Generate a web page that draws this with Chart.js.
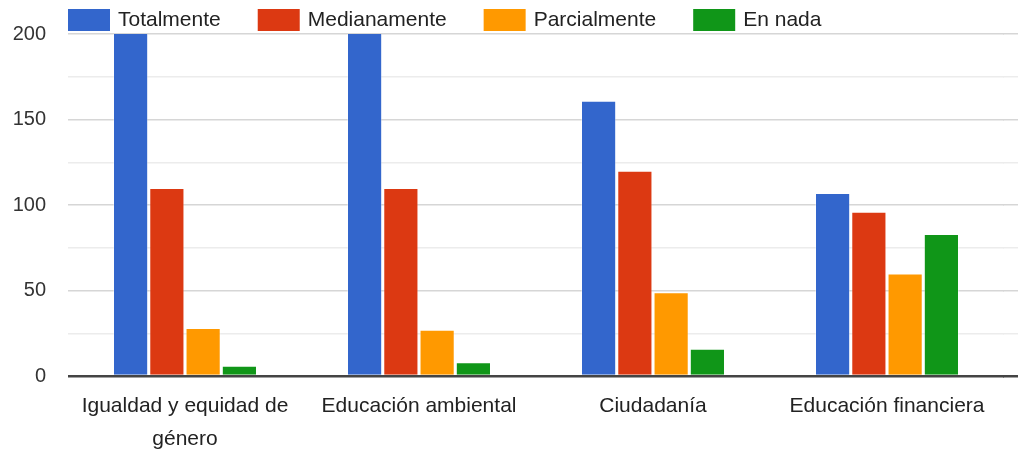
<!DOCTYPE html>
<html>
<head>
<meta charset="utf-8">
<script src="https://cdn.jsdelivr.net/npm/chart.js@4"></script>
<style>
  html, body { margin: 0; padding: 0; background: #fff; }
  #wrap { width: 1018px; height: 451px; position: relative; }
</style>
</head>
<body>
<div id="wrap"><canvas id="c"></canvas></div>
<script>
const categories = [["Igualdad y equidad de", "género"], "Educación ambiental", "Ciudadanía", "Educación financiera"];
const seriesNames = ["Totalmente", "Medianamente", "Parcialmente", "En nada"];
const totalmente = [225, 225, 161, 107];
const medianamente = [110, 110, 120, 96];
const parcialmente = [28, 27, 49, 60];
const enNada = [6, 8, 16, 83];
const colors = ["#3366cc", "#dc3912", "#ff9900", "#109618"];
const yTickLabels = [0, 50, 100, 150, 200];

const seriesValues = [totalmente, medianamente, parcialmente, enNada];
const FONT = "'Liberation Sans', Arial, sans-serif";

function gridColor(v) { return v === 0 ? '#444' : (v % 50 === 0 ? '#d6d6d6' : '#ececec'); }
function gridWidth(v) { return v === 0 ? 2.5 : 1.5; }

const extendGrid = {
  id: 'extendGrid',
  beforeDatasetsDraw(chart) {
    const ctx = chart.ctx, y = chart.scales.y, a = chart.chartArea;
    ctx.save();
    y.ticks.forEach(t => {
      const lw = gridWidth(t.value);
      const half = lw / 2;
      const py = Math.round(y.getPixelForValue(t.value) - half) + half;
      ctx.strokeStyle = gridColor(t.value);
      ctx.lineWidth = lw;
      ctx.beginPath();
      ctx.moveTo(a.right - 1, py);
      ctx.lineTo(chart.width, py);
      ctx.stroke();
    });
    ctx.restore();
  }
};

const legendPlugin = {
  id: 'customLegend',
  afterDraw(chart) {
    const ctx = chart.ctx;
    ctx.save();
    ctx.font = "21px " + FONT;
    ctx.textBaseline = 'middle';
    let x = chart.chartArea.left;
    chart.data.datasets.forEach(ds => {
      ctx.fillStyle = ds.backgroundColor;
      ctx.fillRect(x, 9, 42, 22);
      x += 42 + 8;
      ctx.fillStyle = '#222';
      ctx.fillText(ds.label, x, 20.5);
      x += ctx.measureText(ds.label).width + 37;
    });
    ctx.restore();
  }
};

new Chart(document.getElementById('c'), {
  type: 'bar',
  data: {
    labels: categories,
    datasets: seriesNames.map((name, i) => ({
      label: name,
      data: seriesValues[i],
      backgroundColor: colors[i],
      borderColor: 'rgba(255,255,255,0.35)',
      borderWidth: 1,
      categoryPercentage: 0.62,
      barPercentage: 0.97
    }))
  },
  options: {
    responsive: true,
    maintainAspectRatio: false,
    animation: false,
    layout: { padding: { top: 23, right: 14, left: 0, bottom: 0 } },
    plugins: { legend: { display: false }, tooltip: { enabled: false } },
    scales: {
      x: {
        grid: { display: false },
        border: { display: false },
        ticks: { color: '#222', font: { family: FONT, size: 21, lineHeight: 1.55 }, padding: 6, maxRotation: 0, autoSkip: false },
        afterFit(scale) { scale.height = 75; }
      },
      y: {
        min: 0, max: 200,
        afterBuildTicks(scale) {
          scale.ticks = [];
          for (let v = 0; v <= 200; v += 25) scale.ticks.push({ value: v });
        },
        ticks: {
          color: '#333',
          font: { family: FONT, size: 20 },
          padding: 22,
          callback: v => yTickLabels.includes(v) ? String(v) : ''
        },
        border: { display: false },
        grid: {
          drawTicks: false,
          color: ctx => gridColor(ctx.tick ? ctx.tick.value : 25),
          lineWidth: ctx => gridWidth(ctx.tick ? ctx.tick.value : 25)
        },
        afterFit(scale) { scale.width = 68; }
      }
    }
  },
  plugins: [extendGrid, legendPlugin]
});
</script>
</body>
</html>
